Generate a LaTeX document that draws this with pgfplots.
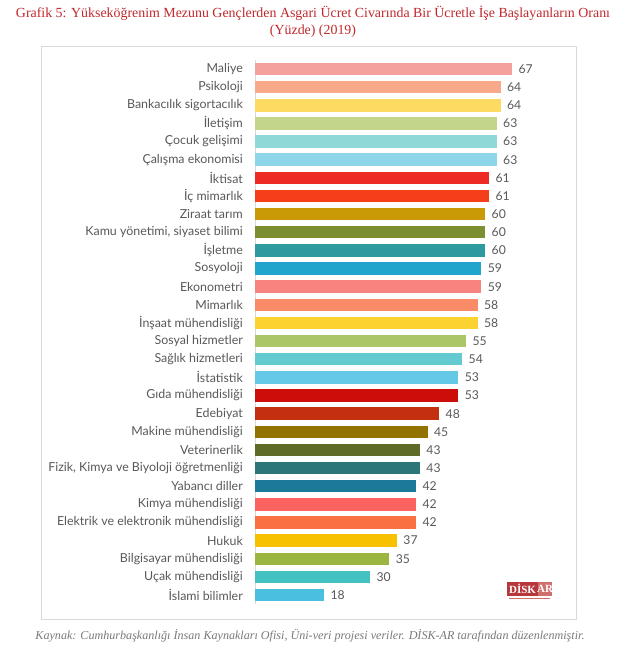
\documentclass[border=0pt]{standalone}
\usepackage{fontspec}
\setmainfont{Liberation Serif}
\newfontfamily\lato{Lato}
\usepackage{pgfplots}
\pgfplotsset{compat=1.18}

\definecolor{titlered}{HTML}{C0282D}
\definecolor{labelgray}{HTML}{595959}
\definecolor{footgray}{HTML}{7A7A7A}
\definecolor{framegray}{HTML}{D9D9D9}
\definecolor{c1}{HTML}{F4A09C}
\definecolor{c2}{HTML}{F7A98A}
\definecolor{c3}{HTML}{FDDA62}
\definecolor{c4}{HTML}{C3D58A}
\definecolor{c5}{HTML}{8ED8D8}
\definecolor{c6}{HTML}{8ED5EA}
\definecolor{c7}{HTML}{EE2A24}
\definecolor{c8}{HTML}{F43F1A}
\definecolor{c9}{HTML}{C99A06}
\definecolor{c10}{HTML}{7B8E32}
\definecolor{c11}{HTML}{2E9AA0}
\definecolor{c12}{HTML}{22A5CC}
\definecolor{c13}{HTML}{F88480}
\definecolor{c14}{HTML}{F98B68}
\definecolor{c15}{HTML}{FCD231}
\definecolor{c16}{HTML}{ABC666}
\definecolor{c17}{HTML}{63CACF}
\definecolor{c18}{HTML}{64C9E6}
\definecolor{c19}{HTML}{CC0D0A}
\definecolor{c20}{HTML}{C33010}
\definecolor{c21}{HTML}{937300}
\definecolor{c22}{HTML}{5E6B27}
\definecolor{c23}{HTML}{2C7677}
\definecolor{c24}{HTML}{1B7A97}
\definecolor{c25}{HTML}{FA635F}
\definecolor{c26}{HTML}{FA7042}
\definecolor{c27}{HTML}{F7C100}
\definecolor{c28}{HTML}{9AB540}
\definecolor{c29}{HTML}{43C1C3}
\definecolor{c30}{HTML}{4BBFE0}
\definecolor{logored}{HTML}{B8373A}
\definecolor{logolight}{HTML}{CF6F6E}

\begin{document}
\begin{tikzpicture}
\useasboundingbox (0,0) rectangle (628pt,-658pt);
\fill[white] (0,0) rectangle (628pt,-658pt);

\node[font=\fontsize{13.9}{16}\selectfont, text=titlered] at (313pt,-13pt)
  {Grafik 5: Yükseköğrenim Mezunu Gençlerden Asgari Ücret Civarında Bir Ücretle İşe Başlayanların Oranı};
\node[font=\fontsize{13.9}{16}\selectfont, text=titlered] at (313pt,-31pt) {(Yüzde) (2019)};

\draw[framegray, line width=0.8pt] (41pt,-46pt) rectangle (576pt,-619pt);

\begin{axis}[
  at={(255pt,-604.1pt)}, anchor=south west,
  scale only axis, width=306.9pt, height=544.2pt,
  xmin=0, xmax=80, ymin=-0.5, ymax=29.5, y dir=reverse,
  xbar, bar width=12.5pt, bar shift=0pt,
  axis x line=none, axis y line=left,
  y axis line style={-, draw=framegray, line width=0.6pt},
  major tick length=0pt,
  ytick={0,...,29},
  yticklabels={Maliye, Psikoloji, Bankacılık sigortacılık, İletişim, Çocuk gelişimi, Çalışma ekonomisi, İktisat, İç mimarlık, Ziraat tarım, {Kamu yönetimi, siyaset bilimi}, İşletme, Sosyoloji, Ekonometri, Mimarlık, İnşaat mühendisliği, Sosyal hizmetler, Sağlık hizmetleri, İstatistik, Gıda mühendisliği, Edebiyat, Makine mühendisliği, Veterinerlik, {Fizik, Kimya ve Biyoloji öğretmenliği}, Yabancı diller, Kimya mühendisliği, Elektrik ve elektronik mühendisliği, Hukuk, Bilgisayar mühendisliği, Uçak mühendisliği, İslami bilimler},
  yticklabel style={font=\lato\fontsize{12.4}{14}\selectfont, text=labelgray, inner sep=0pt, xshift=-12pt},
  nodes near coords,
  nodes near coords style={font=\lato\fontsize{12.2}{14}\selectfont, text=labelgray, anchor=west, xshift=3pt},
  /pgf/number format/assume math mode=true,
  every axis plot/.append style={draw=none},
  clip=false,
]
\addplot[fill=c1] coordinates {(67,0)};
\addplot[fill=c2] coordinates {(64,1)};
\addplot[fill=c3] coordinates {(64,2)};
\addplot[fill=c4] coordinates {(63,3)};
\addplot[fill=c5] coordinates {(63,4)};
\addplot[fill=c6] coordinates {(63,5)};
\addplot[fill=c7] coordinates {(61,6)};
\addplot[fill=c8] coordinates {(61,7)};
\addplot[fill=c9] coordinates {(60,8)};
\addplot[fill=c10] coordinates {(60,9)};
\addplot[fill=c11] coordinates {(60,10)};
\addplot[fill=c12] coordinates {(59,11)};
\addplot[fill=c13] coordinates {(59,12)};
\addplot[fill=c14] coordinates {(58,13)};
\addplot[fill=c15] coordinates {(58,14)};
\addplot[fill=c16] coordinates {(55,15)};
\addplot[fill=c17] coordinates {(54,16)};
\addplot[fill=c18] coordinates {(53,17)};
\addplot[fill=c19] coordinates {(53,18)};
\addplot[fill=c20] coordinates {(48,19)};
\addplot[fill=c21] coordinates {(45,20)};
\addplot[fill=c22] coordinates {(43,21)};
\addplot[fill=c23] coordinates {(43,22)};
\addplot[fill=c24] coordinates {(42,23)};
\addplot[fill=c25] coordinates {(42,24)};
\addplot[fill=c26] coordinates {(42,25)};
\addplot[fill=c27] coordinates {(37,26)};
\addplot[fill=c28] coordinates {(35,27)};
\addplot[fill=c29] coordinates {(30,28)};
\addplot[fill=c30] coordinates {(18,29)};
\end{axis}

% logo
\fill[logored] (507pt,-582pt) rectangle (538pt,-596pt);
\node[font=\fontsize{11}{11}\selectfont\bfseries, text=white, inner sep=0pt] at (522.5pt,-589pt) {DİSK};
\fill[logolight] (538pt,-582pt) rectangle (552pt,-596pt);
\node[font=\fontsize{11}{11}\selectfont\bfseries, text=white, inner sep=0pt] at (545pt,-589pt) {AR};
\draw[logolight, line width=0.8pt] (509pt,-598.5pt) -- (550pt,-598.5pt);

\node[font=\itshape\fontsize{12.1}{14}\selectfont, text=footgray] at (310pt,-636pt)
  {Kaynak: Cumhurbaşkanlığı İnsan Kaynakları Ofisi, Üni-veri projesi veriler. DİSK-AR tarafından düzenlenmiştir.};
\end{tikzpicture}
\end{document}
